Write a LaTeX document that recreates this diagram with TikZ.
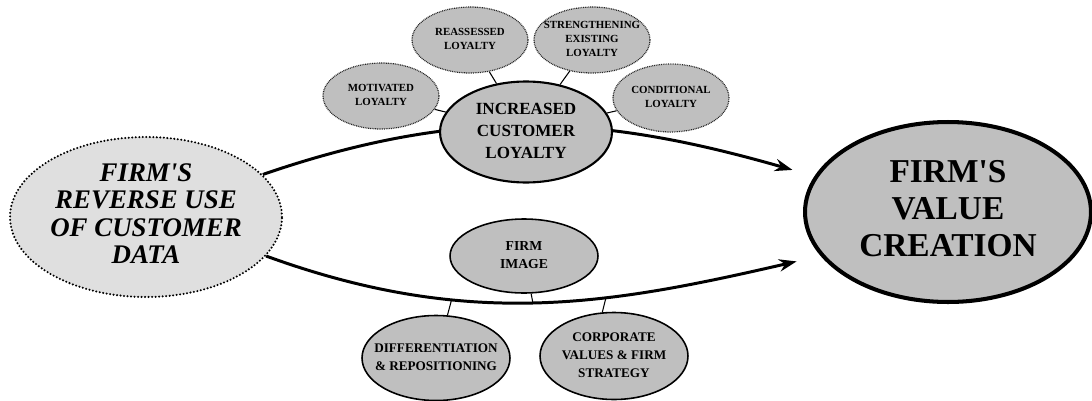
\documentclass[tikz,border=0pt]{standalone}
\usepackage{fontspec}
\setmainfont{Liberation Serif}
\usepackage{tikz}
\usetikzlibrary{arrows.meta,backgrounds,positioning,shapes.geometric}
\newcommand{\rows}[1]{\makebox[0pt]{\begin{tabular}{@{}c@{}}#1\end{tabular}}}
\tikzset{%
	source/.style   = {draw, ellipse, inner sep=0pt, fill=gray!25, line width=1.3pt, line cap=round, dash pattern=on 0pt off 2pt, minimum width=5.44cm, minimum height=3.2cm, font=\bfseries\itshape\fontsize{15.3}{15.6}\selectfont}, % Input
	target/.style   = {draw, ellipse, inner sep=0pt, fill=gray!50, line width=2.3pt, minimum width=5.72cm, minimum height=3.6cm, font=\bfseries\fontsize{19}{21}\selectfont}, % Output
	effect/.style   = {draw, ellipse, inner sep=0pt, fill=gray!50, line width=1.2pt, minimum width=3.44cm, minimum height=2.02cm, font=\bfseries\fontsize{9.7}{12.8}\selectfont},
	loyalty/.style  = {draw=black!85, ellipse, inner sep=0pt, fill=gray!50, line width=0.7pt, dash pattern=on 0.5pt off 0.5pt, minimum width=2.32cm, minimum height=1.32cm, font=\bfseries\fontsize{6.2}{8}\selectfont},
	facet/.style    = {draw, ellipse, inner sep=0pt, fill=gray!50, line width=0.9pt, minimum width=2.96cm, minimum height=1.7cm, font=\bfseries\fontsize{7.5}{10.2}\selectfont},
	link/.style     = {line width=0.6pt},
	arrow/.style    = {line width=1.7pt, -{Stealth[length=10pt,width=7pt]}},
}
\begin{document}
\begin{tikzpicture}[x=0.02cm, y=0.02cm]
	\useasboundingbox (0,0) rectangle (1092,400);
	\node[source] (data) at (146,183) {\rows{FIRM\textquotesingle S\\REVERSE USE\\OF CUSTOMER\\DATA}};
	\node[target] (value) at (948,188) {\rows{FIRM\textquotesingle S\\VALUE\\CREATION}};
	\node[effect] (loyalty) at (526,268) {\rows{INCREASED\\CUSTOMER\\LOYALTY}};
	\node[loyalty] (motivated) at (381,304) {\rows{MOTIVATED\\LOYALTY}};
	\node[loyalty] (reassessed) at (470,360) {\rows{REASSESSED\\LOYALTY}};
	\node[loyalty] (strengthen) at (592,360) {\rows{STRENGTHENING\\EXISTING\\LOYALTY}};
	\node[loyalty, minimum height=1.36cm] (conditional) at (671,302) {\rows{CONDITIONAL\\LOYALTY}};
	\node[facet, minimum height=1.48cm, font=\bfseries\fontsize{7.8}{10.4}\selectfont] (image) at (524,144) {\rows{FIRM\\IMAGE}};
	\node[facet] (diff) at (436,42) {\rows{DIFFERENTIATION\\\& REPOSITIONING}};
	\node[facet, minimum height=1.74cm] (corp) at (614,44) {\rows{CORPORATE\\VALUES \& FIRM\\STRATEGY}};
	
	\begin{scope}[on background layer]
	\draw[arrow, shorten >=13] (data.20) to[out=19, in=164] (value.165);
	\draw[arrow, shorten >=14] (data.-18) to[out=-20, in=193]
		coordinate[pos=0.33] (wpd) coordinate[pos=0.485] (wpi) coordinate[pos=0.625] (wpc) (value.199);
	\end{scope}
	
	\draw[link] (motivated) -- (loyalty);
	\draw[link] (reassessed) -- (loyalty);
	\draw[link] (strengthen) -- (loyalty);
	\draw[link] (conditional) -- (loyalty);
	\draw[link] (image) -- (wpi);
	\draw[link] (diff.75) -- (wpd);
	\draw[link] (corp.105) -- (wpc);
\end{tikzpicture}
\end{document}
